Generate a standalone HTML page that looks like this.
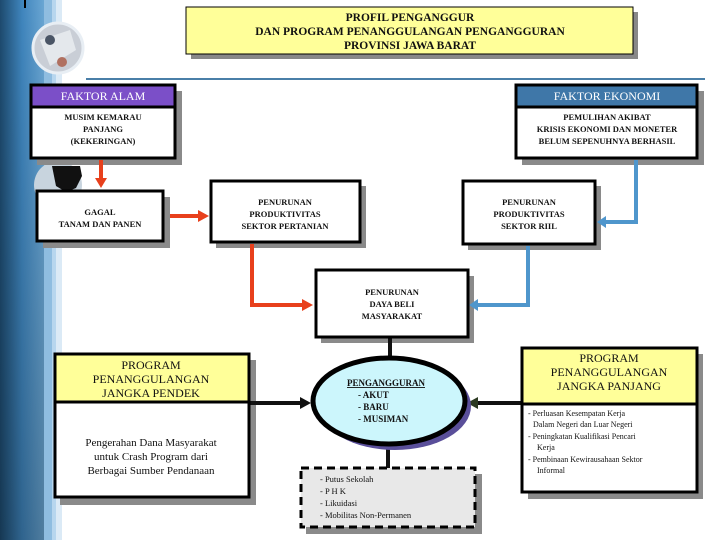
<!DOCTYPE html>
<html><head><meta charset="utf-8"><style>
html,body{margin:0;padding:0;background:#fff;}
svg{display:block;}
text{font-family:"Liberation Serif",serif;font-weight:bold;fill:#111;}
</style></head><body>
<svg width="720" height="540" viewBox="0 0 720 540" xmlns="http://www.w3.org/2000/svg">
<defs>
<linearGradient id="bg" x1="0" x2="1" y1="0" y2="0">
<stop offset="0" stop-color="#1d4a6e"/><stop offset="0.5" stop-color="#3f85bd"/><stop offset="1" stop-color="#6aa6d3"/>
</linearGradient>
<linearGradient id="bgv" x1="0" x2="0" y1="0" y2="1">
<stop offset="0" stop-color="#000" stop-opacity="0"/><stop offset="1" stop-color="#000" stop-opacity="0.25"/>
</linearGradient>
</defs>
<rect x="0" y="0" width="44" height="540" fill="url(#bg)"/>
<rect x="0" y="0" width="44" height="540" fill="url(#bgv)"/>
<rect x="44" y="0" width="8" height="540" fill="#8fbde0"/>
<rect x="52" y="0" width="4" height="540" fill="#b7d6ee"/>
<rect x="56" y="0" width="6" height="540" fill="#dbeaf6"/>
<rect x="24" y="0" width="2" height="8" fill="#000"/>
<circle cx="58" cy="48" r="25" fill="#c9ced6" stroke="#e8eef4" stroke-width="3"/>
<path d="M40 40 L70 30 L76 50 L50 66 Z" fill="#e4e8ec"/>
<circle cx="50" cy="40" r="5" fill="#4a5566"/>
<circle cx="62" cy="62" r="5" fill="#b07060"/>
<circle cx="58" cy="185" r="24" fill="#c8d4de"/>
<path d="M52 166 L80 166 L82 176 L76 188 L66 192 L56 186 Z" fill="#111"/>
<rect x="191" y="12" width="447" height="47" fill="#888"/>
<rect x="186" y="7" width="447" height="47" fill="#ffff99" stroke="#000" stroke-width="1"/>
<text x="410" y="21" font-size="11.5" text-anchor="middle">PROFIL PENGANGGUR</text>
<text x="410" y="35" font-size="11.5" text-anchor="middle">DAN PROGRAM PENANGGULANGAN PENGANGGURAN</text>
<text x="410" y="49" font-size="11.5" text-anchor="middle">PROVINSI JAWA BARAT</text>
<line x1="86" y1="79" x2="705" y2="79" stroke="#4a7fa8" stroke-width="2"/>
<g fill="#8a8a8a">
<rect x="37" y="91" width="145" height="74"/>
<rect x="522" y="91" width="182" height="74"/>
<rect x="43" y="197" width="127" height="51"/>
<rect x="216" y="186" width="150" height="62"/>
<rect x="468" y="186" width="133" height="64"/>
<rect x="321" y="276" width="153" height="67"/>
<rect x="60" y="360" width="196" height="145"/>
<rect x="528" y="354" width="175" height="145"/>
<rect x="306" y="474" width="176" height="60"/>
</g>
<g stroke="#e8401c" stroke-width="4" fill="none">
<line x1="101" y1="160" x2="101" y2="180"/>
<line x1="170" y1="216" x2="200" y2="216"/>
<polyline points="252,244 252,305 304,305"/>
</g>
<g fill="#e8401c">
<polygon points="95,178 107,178 101,188"/>
<polygon points="198,210 198,222 209,216"/>
<polygon points="302,299 302,311 313,305"/>
</g>
<g stroke="#4f96cc" stroke-width="4" fill="none">
<polyline points="636,160 636,222 604,222"/>
<polyline points="528,246 528,305 476,305"/>
</g>
<g fill="#4f96cc">
<polygon points="606,216 606,228 597,222"/>
<polygon points="478,299 478,311 469,305"/>
</g>
<g stroke="#111" stroke-width="4">
<line x1="390" y1="338" x2="390" y2="358"/>
<line x1="388" y1="444" x2="388" y2="468"/>
<line x1="249" y1="403" x2="302" y2="403"/>
<line x1="522" y1="403" x2="478" y2="403"/>
</g>
<polygon points="300,397 300,409 311,403" fill="#111"/>
<polygon points="478,397 478,409 467,403" fill="#2c3a22"/>
<rect x="31" y="85" width="144" height="73" fill="#fff" stroke="#000" stroke-width="3"/>
<rect x="31" y="85" width="144" height="22" fill="#7b4fc8" stroke="#000" stroke-width="3"/>
<text x="103" y="100" font-size="12" text-anchor="middle" style="fill:#fff;font-weight:normal">FAKTOR ALAM</text>
<text x="103" y="120" font-size="8.5" text-anchor="middle">MUSIM KEMARAU</text>
<text x="103" y="132" font-size="8.5" text-anchor="middle">PANJANG</text>
<text x="103" y="144" font-size="8.5" text-anchor="middle">(KEKERINGAN)</text>
<rect x="516" y="85" width="181" height="73" fill="#fff" stroke="#000" stroke-width="3"/>
<rect x="516" y="85" width="181" height="22" fill="#3f77a8" stroke="#000" stroke-width="3"/>
<text x="607" y="100" font-size="12" text-anchor="middle" style="fill:#fff;font-weight:normal">FAKTOR EKONOMI</text>
<text x="607" y="120" font-size="8.5" text-anchor="middle">PEMULIHAN AKIBAT</text>
<text x="607" y="132" font-size="8.5" text-anchor="middle">KRISIS EKONOMI DAN MONETER</text>
<text x="607" y="144" font-size="8.5" text-anchor="middle">BELUM SEPENUHNYA BERHASIL</text>
<rect x="37" y="191" width="126" height="50" fill="#fff" stroke="#000" stroke-width="3"/>
<text x="100" y="215" font-size="8.5" text-anchor="middle">GAGAL</text>
<text x="100" y="227" font-size="8.5" text-anchor="middle">TANAM DAN PANEN</text>
<rect x="211" y="181" width="149" height="61" fill="#fff" stroke="#000" stroke-width="3"/>
<text x="285" y="205" font-size="8.5" text-anchor="middle">PENURUNAN</text>
<text x="285" y="217" font-size="8.5" text-anchor="middle">PRODUKTIVITAS</text>
<text x="285" y="229" font-size="8.5" text-anchor="middle">SEKTOR PERTANIAN</text>
<rect x="463" y="181" width="132" height="63" fill="#fff" stroke="#000" stroke-width="3"/>
<text x="529" y="205" font-size="8.5" text-anchor="middle">PENURUNAN</text>
<text x="529" y="217" font-size="8.5" text-anchor="middle">PRODUKTIVITAS</text>
<text x="529" y="229" font-size="8.5" text-anchor="middle">SEKTOR RIIL</text>
<rect x="316" y="270" width="152" height="67" fill="#fff" stroke="#000" stroke-width="3"/>
<text x="392" y="295" font-size="8.5" text-anchor="middle">PENURUNAN</text>
<text x="392" y="307" font-size="8.5" text-anchor="middle">DAYA BELI</text>
<text x="392" y="319" font-size="8.5" text-anchor="middle">MASYARAKAT</text>
<ellipse cx="395" cy="406" rx="76" ry="44" fill="#5a4f9a"/>
<ellipse cx="389" cy="401" rx="76" ry="43" fill="#ccf6fc" stroke="#000" stroke-width="5"/>
<text x="386" y="386" font-size="9" text-anchor="middle" text-decoration="underline">PENGANGGURAN</text>
<text x="358" y="398" font-size="9">- AKUT</text>
<text x="358" y="410" font-size="9">- BARU</text>
<text x="358" y="422" font-size="9">- MUSIMAN</text>
<rect x="301" y="468" width="174" height="59" fill="#e8e8e8" stroke="#000" stroke-width="3" stroke-dasharray="8,5"/>
<text x="320" y="482" font-size="8.5" style="font-weight:normal">- Putus Sekolah</text>
<text x="320" y="494" font-size="8.5" style="font-weight:normal">- P H K</text>
<text x="320" y="506" font-size="8.5" style="font-weight:normal">- Likuidasi</text>
<text x="320" y="518" font-size="8.5" style="font-weight:normal">- Mobilitas Non-Permanen</text>
<rect x="55" y="354" width="194" height="143" fill="#fff" stroke="#000" stroke-width="3"/>
<rect x="55" y="354" width="194" height="48" fill="#ffff99" stroke="#000" stroke-width="3"/>
<text x="151" y="369" font-size="12" text-anchor="middle" style="font-weight:normal">PROGRAM</text>
<text x="151" y="383" font-size="12" text-anchor="middle" style="font-weight:normal">PENANGGULANGAN</text>
<text x="151" y="397" font-size="12" text-anchor="middle" style="font-weight:normal">JANGKA PENDEK</text>
<text x="151" y="446" font-size="11" text-anchor="middle" style="font-weight:normal">Pengerahan Dana Masyarakat</text>
<text x="151" y="460" font-size="11" text-anchor="middle" style="font-weight:normal">untuk Crash Program dari</text>
<text x="151" y="474" font-size="11" text-anchor="middle" style="font-weight:normal">Berbagai Sumber Pendanaan</text>
<rect x="522" y="348" width="175" height="144" fill="#fff" stroke="#000" stroke-width="3"/>
<rect x="522" y="348" width="175" height="56" fill="#ffff99" stroke="#000" stroke-width="3"/>
<text x="609" y="362" font-size="12" text-anchor="middle" style="font-weight:normal">PROGRAM</text>
<text x="609" y="376" font-size="12" text-anchor="middle" style="font-weight:normal">PENANGGULANGAN</text>
<text x="609" y="390" font-size="12" text-anchor="middle" style="font-weight:normal">JANGKA PANJANG</text>
<text x="528" y="416" font-size="8" style="font-weight:normal">- Perluasan Kesempatan Kerja</text>
<text x="533" y="427" font-size="8" style="font-weight:normal">Dalam Negeri dan Luar Negeri</text>
<text x="528" y="439" font-size="8" style="font-weight:normal">- Peningkatan Kualifikasi Pencari</text>
<text x="537" y="450" font-size="8" style="font-weight:normal">Kerja</text>
<text x="528" y="462" font-size="8" style="font-weight:normal">- Pembinaan Kewirausahaan Sektor</text>
<text x="537" y="473" font-size="8" style="font-weight:normal">Informal</text>
</svg>
</body></html>
